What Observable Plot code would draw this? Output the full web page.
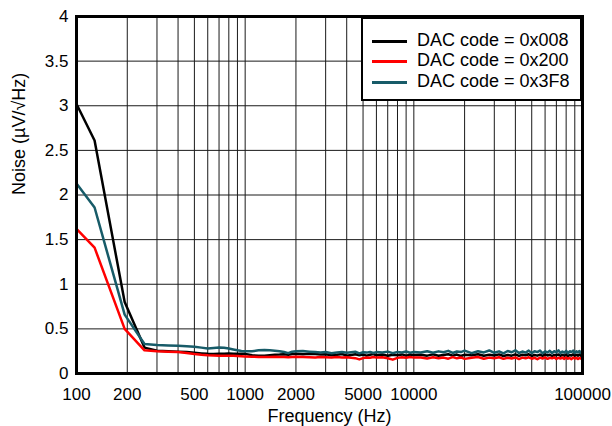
<!DOCTYPE html>
<html>
<head>
<meta charset="utf-8">
<script src="https://cdn.jsdelivr.net/npm/d3@7"></script>
<script src="https://cdn.jsdelivr.net/npm/@observablehq/plot@0.6"></script>
<style>
  html, body { margin: 0; padding: 0; background: #fff; }
  #wrap { position: relative; width: 612px; height: 426px; font-family: "Liberation Sans", Arial, sans-serif; }
  #legend { position: absolute; left: 361px; top: 17px; width: 221px; height: 84px; box-sizing: border-box;
            border: 2px solid #000; background: #fff; }
  .row { position: absolute; left: 0; height: 20px; width: 100%; }
  .swatch { position: absolute; left: 9px; top: 9px; width: 35px; height: 0; border-top: 3px solid #000; }
  .lab { position: absolute; left: 54px; top: -1px; font-size: 18px; line-height: 20px; color: #000; white-space: nowrap; }
</style>
</head>
<body>
<div id="wrap"></div>
<script>
// ---------- data ----------
const seriesNames = ["DAC code = 0x008", "DAC code = 0x200", "DAC code = 0x3F8"];
const seriesColors = ["#000000", "#ff0000", "#175b68"];

const freqLow = [
  100, 128, 193, 253, 300, 350, 400, 450, 500, 550,
  600, 650, 700, 750, 800, 850, 900, 950, 1000, 1100,
  1200, 1300, 1400, 1500, 1600, 1700, 1800, 1900, 2000, 2200,
  2400, 2600, 2800, 3000, 3250, 3500, 3750, 4000, 4250, 4500,
  4750, 5000, 5250, 5500, 5750, 6000, 6500, 7000, 7500, 8000,
  8500, 9000, 9500, 10000
];
const freqTail = [
  11000, 12000, 13000, 14000, 15000, 16000, 17000, 18000, 19000, 20000,
  22000, 24000, 26000, 28000, 30000, 32000, 34000, 36000, 38000, 40000,
  42000, 44000, 46000, 48000, 50000, 52000, 54000, 56000, 58000, 60000,
  62000, 64000, 66000, 68000, 70000, 72000, 74000, 76000, 78000, 80000,
  82000, 84000, 86000, 88000, 90000, 92000, 94000, 96000, 98000, 100000
];

const noise008 = [
  3.02, 2.61, 0.80, 0.29, 0.255, 0.25, 0.245, 0.24, 0.232, 0.225,
  0.22, 0.218, 0.22, 0.222, 0.225, 0.222, 0.22, 0.222, 0.22, 0.205,
  0.198, 0.2, 0.205, 0.21, 0.212, 0.215, 0.21, 0.218, 0.222, 0.215,
  0.22, 0.218, 0.212, 0.215, 0.205, 0.21, 0.218, 0.2, 0.208, 0.215,
  0.205, 0.212, 0.2, 0.21, 0.218, 0.205, 0.212, 0.198, 0.21, 0.205,
  0.214, 0.2, 0.21, 0.206,
  0.21, 0.2, 0.214, 0.198, 0.208, 0.216, 0.2, 0.212, 0.196, 0.21,
  0.204, 0.216, 0.198, 0.21, 0.202, 0.214, 0.196, 0.208, 0.2, 0.214,
  0.198, 0.21, 0.204, 0.216, 0.196, 0.208, 0.2, 0.212, 0.198, 0.214,
  0.202, 0.21, 0.196, 0.208, 0.204, 0.214, 0.198, 0.21, 0.2, 0.212,
  0.196, 0.208, 0.202, 0.214, 0.198, 0.21, 0.2, 0.212, 0.198, 0.206
];
const noise200 = [
  1.62, 1.41, 0.50, 0.26, 0.25, 0.245, 0.24, 0.23, 0.218, 0.21,
  0.205, 0.202, 0.2, 0.2, 0.2, 0.198, 0.195, 0.192, 0.19, 0.188,
  0.186, 0.185, 0.186, 0.188, 0.186, 0.185, 0.182, 0.186, 0.188, 0.185,
  0.182, 0.18, 0.184, 0.182, 0.178, 0.184, 0.18, 0.182, 0.176, 0.172,
  0.158, 0.172, 0.18, 0.176, 0.184, 0.178, 0.182, 0.17, 0.155, 0.175,
  0.182, 0.176, 0.184, 0.178,
  0.18, 0.168, 0.182, 0.172, 0.178, 0.166, 0.184, 0.17, 0.18, 0.164,
  0.176, 0.184, 0.166, 0.178, 0.17, 0.182, 0.164, 0.176, 0.168, 0.18,
  0.162, 0.178, 0.17, 0.182, 0.166, 0.176, 0.16, 0.178, 0.168, 0.18,
  0.164, 0.176, 0.17, 0.182, 0.162, 0.176, 0.168, 0.178, 0.164, 0.18,
  0.166, 0.174, 0.16, 0.178, 0.168, 0.176, 0.162, 0.174, 0.166, 0.172
];
const noise3F8 = [
  2.13, 1.86, 0.66, 0.33, 0.32, 0.315, 0.31, 0.305, 0.30, 0.29,
  0.28, 0.285, 0.29, 0.288, 0.28, 0.27, 0.26, 0.252, 0.25, 0.25,
  0.26, 0.262, 0.26, 0.255, 0.25, 0.24, 0.228, 0.245, 0.25, 0.252,
  0.245, 0.24, 0.235, 0.24, 0.228, 0.236, 0.242, 0.232, 0.238, 0.244,
  0.226, 0.238, 0.234, 0.242, 0.23, 0.24, 0.236, 0.245, 0.228, 0.24,
  0.235, 0.246, 0.232, 0.242,
  0.236, 0.25, 0.232, 0.248, 0.238, 0.254, 0.23, 0.246, 0.24, 0.256,
  0.228, 0.25, 0.236, 0.258, 0.232, 0.248, 0.226, 0.252, 0.238, 0.26,
  0.23, 0.246, 0.234, 0.256, 0.228, 0.25, 0.24, 0.258, 0.226, 0.248,
  0.236, 0.254, 0.23, 0.25, 0.238, 0.26, 0.228, 0.246, 0.234, 0.254,
  0.226, 0.25, 0.24, 0.256, 0.23, 0.248, 0.236, 0.252, 0.228, 0.244
];

const xTicks = [100, 200, 500, 1000, 2000, 5000, 10000, 100000];
const yTicks = [0, 0.5, 1, 1.5, 2, 2.5, 3, 3.5, 4];
const xGrid = [100,200,300,400,500,600,700,800,900,1000,2000,3000,4000,5000,6000,7000,8000,9000,
               10000,20000,30000,40000,50000,60000,70000,80000,90000,100000];

// ---------- build table ----------
const freq = freqLow.concat(freqTail);
const valueSets = [noise008, noise200, noise3F8];
const data = [];
valueSets.forEach((vals, s) => {
  const n = Math.min(freq.length, vals.length);
  for (let i = 0; i < n; i++) data.push({f: freq[i], v: vals[i], s: seriesNames[s]});
});

const chart = Plot.plot({
  width: 612,
  height: 426,
  marginLeft: 76,
  marginRight: 30,
  marginTop: 16,
  marginBottom: 53,
  style: {fontFamily: "'Liberation Sans', Arial, sans-serif", fontSize: "17px", color: "#000", background: "#fff"},
  x: {type: "log", domain: [100, 100000], label: null, axis: null},
  y: {domain: [0, 4], label: null},
  color: {domain: seriesNames, range: seriesColors},
  marks: [
    Plot.ruleX(xGrid, {stroke: "#1a1a1a", strokeWidth: 1}),
    Plot.ruleY(yTicks, {stroke: "#1a1a1a", strokeWidth: 1}),
    Plot.text(xTicks, {x: d => d, text: d => String(d), frameAnchor: "bottom", lineAnchor: "top", dy: 14, fontSize: 17, fill: "#000"}),
    Plot.axisY({ticks: yTicks, tickSize: 0, tickPadding: 8, tickFormat: d => String(d), fontSize: 17}),
    Plot.line(data, {x: "f", y: "v", z: "s", stroke: "s", strokeWidth: 2.5, strokeLinejoin: "round"}),
    Plot.frame({stroke: "#000", strokeWidth: 3}),
    Plot.text(["Frequency (Hz)"], {frameAnchor: "bottom", dy: 48, fontSize: 18, fill: "#000"}),
    Plot.text(["Noise (\u00b5V/\u221aHz)"], {frameAnchor: "left", dx: -57, rotate: -90, fontSize: 18, fill: "#000"})
  ]
});

const wrap = document.getElementById("wrap");
wrap.appendChild(chart);

// legend
const legend = document.createElement("div");
legend.id = "legend";
const rowTops = [12, 32, 53];
seriesNames.forEach((name, i) => {
  const row = document.createElement("div");
  row.className = "row";
  row.style.top = rowTops[i] + "px";
  const sw = document.createElement("div");
  sw.className = "swatch";
  sw.style.borderTopColor = seriesColors[i];
  const lab = document.createElement("div");
  lab.className = "lab";
  lab.textContent = name;
  row.appendChild(sw);
  row.appendChild(lab);
  legend.appendChild(row);
});
wrap.appendChild(legend);
</script>
</body>
</html>
